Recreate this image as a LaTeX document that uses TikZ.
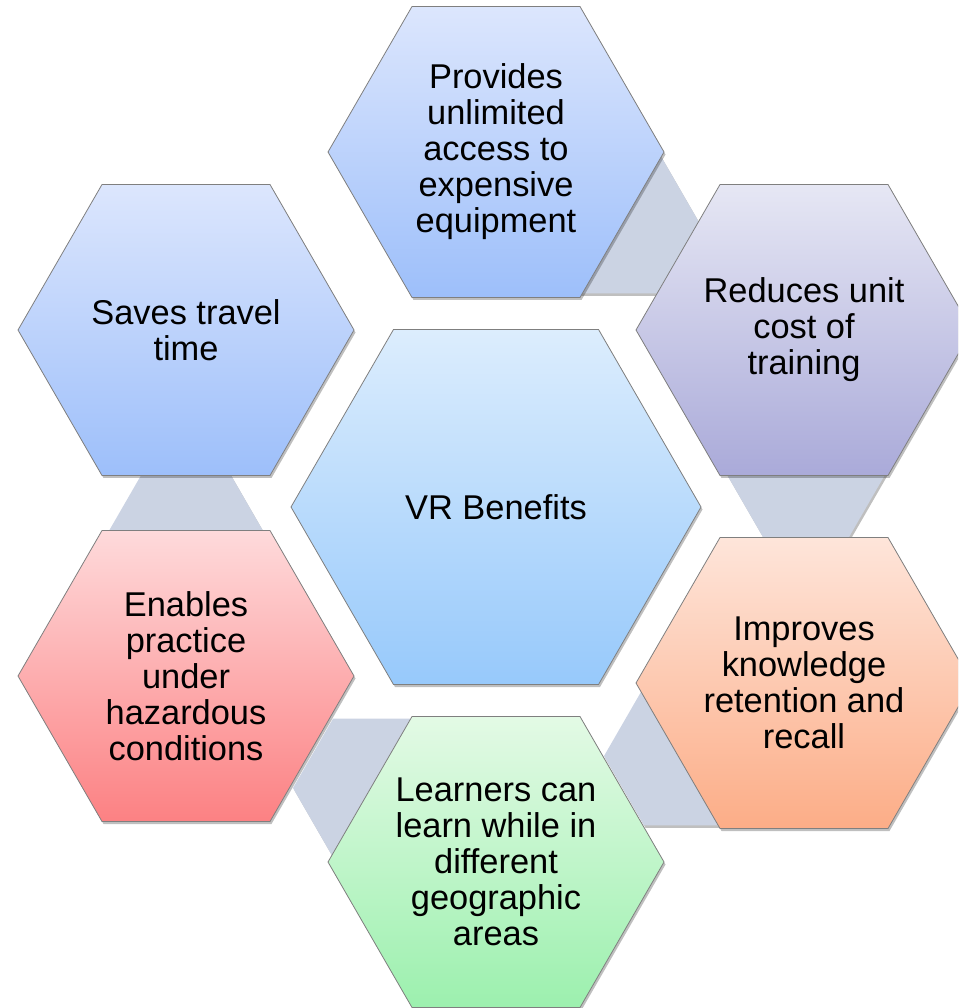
\documentclass[tikz,border=0pt]{standalone}
\usepackage{fontspec}
\setmainfont{Liberation Sans}
\usetikzlibrary{shapes.geometric,shadows}
\definecolor{hexline}{HTML}{7F7F7F}
\definecolor{linkgray}{HTML}{CBD3E3}
\definecolor{blueTop}{HTML}{DCE6FD}
\definecolor{blueBot}{HTML}{9DBFFA}
\definecolor{skyTop}{HTML}{DCEDFD}
\definecolor{skyBot}{HTML}{97C9FB}
\definecolor{lavTop}{HTML}{E6E7F4}
\definecolor{lavBot}{HTML}{AAAAD9}
\definecolor{peachTop}{HTML}{FEE5DA}
\definecolor{peachBot}{HTML}{FCAD87}
\definecolor{mintTop}{HTML}{E3FAE5}
\definecolor{mintBot}{HTML}{9CF0AE}
\definecolor{redTop}{HTML}{FEDADB}
\definecolor{redBot}{HTML}{FC8183}
\newcommand\hexfont{\fontsize{34.4}{36}\selectfont}
\tikzset{
  softshadow/.style={drop shadow={shadow xshift=1.5pt, shadow yshift=-2.5pt, opacity=0.25, fill=black}},
  hexbase/.style={regular polygon, regular polygon sides=6, inner sep=0pt},
  linkhex/.style={hexbase, minimum size=160pt, fill=linkgray, draw=none, softshadow},
  outerhex/.style={hexbase, minimum size=336pt, draw=hexline, line width=0.8pt,
    align=center, font=\hexfont, text=black, softshadow},
  centerhex/.style={outerhex, minimum size=410pt},
}
\begin{document}
\begin{tikzpicture}[x=1pt,y=-1pt]
\useasboundingbox (0,0) rectangle (958,1008);
\clip (0,0) rectangle (958,1008);
% connector hexagons (behind)
\node[linkhex] (g1) at (620,224) {};
\node[linkhex] (g2) at (806,473) {};
\node[linkhex] (g3) at (684,756) {};
\node[linkhex] (g4) at (373,788) {};
\node[linkhex] (g5) at (186,536) {};
% outer hexagons
\node[outerhex, top color=blueTop, bottom color=blueBot] (prov) at (496,152)
  {Provides\\unlimited\\access to\\expensive\\equipment};
\node[outerhex, top color=lavTop, bottom color=lavBot] (redu) at (804,330)
  {Reduces unit\\cost of\\training};
\node[outerhex, top color=peachTop, bottom color=peachBot] (impr) at (804,683)
  {Improves\\knowledge\\retention and\\recall};
\node[outerhex, top color=mintTop, bottom color=mintBot] (lear) at (496,862)
  {Learners can\\learn while in\\different\\geographic\\areas};
\node[outerhex, top color=redTop, bottom color=redBot] (enab) at (186,676)
  {Enables\\practice\\under\\hazardous\\conditions};
\node[outerhex, top color=blueTop, bottom color=blueBot] (save) at (186,330)
  {Saves travel\\time};
% center hexagon
\node[centerhex, top color=skyTop, bottom color=skyBot] (vr) at (496,507)
  {VR Benefits};
\end{tikzpicture}
\end{document}
